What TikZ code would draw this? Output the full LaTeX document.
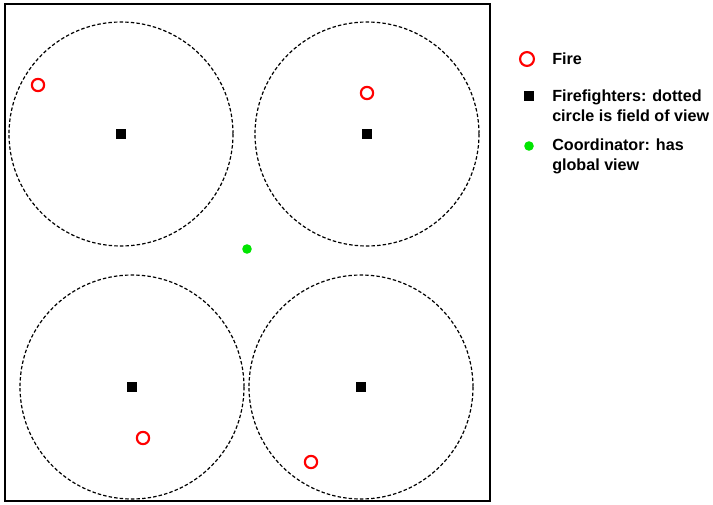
\documentclass[tikz,border=0pt]{standalone}
\usepackage{fontspec}
\setmainfont{Liberation Sans}
\begin{document}
\begin{tikzpicture}[x=0.75pt, y=-0.75pt,
    fire/.style={circle, draw=red, line width=1.6pt, minimum size=9.2pt, inner sep=0pt},
    fighter/.style={rectangle, fill=black, minimum size=7.5pt, inner sep=0pt},
    coord/.style={circle, fill=green!90!black, minimum size=7.2pt, inner sep=0pt},
    view/.style={dashed, dash pattern=on 2.6pt off 1.6pt, line width=0.9pt},
    legend/.style={anchor=west, align=left, inner sep=0pt,
        font=\fontsize{12.1}{15}\selectfont\bfseries}]
    \useasboundingbox (0,0) rectangle (713,504);

    % area
    \draw[line width=1.6pt] (5,4) rectangle (490,501);

    % firefighters with their field of view
    \node[fighter] (ff1) at (121,134) {};
    \node[fighter] (ff2) at (367,134) {};
    \node[fighter] (ff3) at (132,387) {};
    \node[fighter] (ff4) at (361,387) {};
    \draw[view] (ff1) circle (112);
    \draw[view] (ff2) circle (112);
    \draw[view] (ff3) circle (112);
    \draw[view] (ff4) circle (112);

    % fires
    \node[fire] (fire1) at (38,85) {};
    \node[fire] (fire2) at (367,93) {};
    \node[fire] (fire3) at (143,438) {};
    \node[fire] (fire4) at (311,462) {};

    % coordinator
    \node[coord] (boss) at (247,249) {};

    % legend
    \node[fire, minimum size=10.4pt] (keyfire) at (527,59) {};
    \node[legend] (txtfire) at (552,59) {Fire};
    \node[fighter, minimum size=8pt] (keyff) at (529,96) {};
    \node[legend] (txtff) at (552,106) {Firefighters: dotted\\circle is field of view};
    \node[coord] (keyboss) at (529,146) {};
    \node[legend] (txtboss) at (552,156) {Coordinator: has\\global view};
\end{tikzpicture}
\end{document}
